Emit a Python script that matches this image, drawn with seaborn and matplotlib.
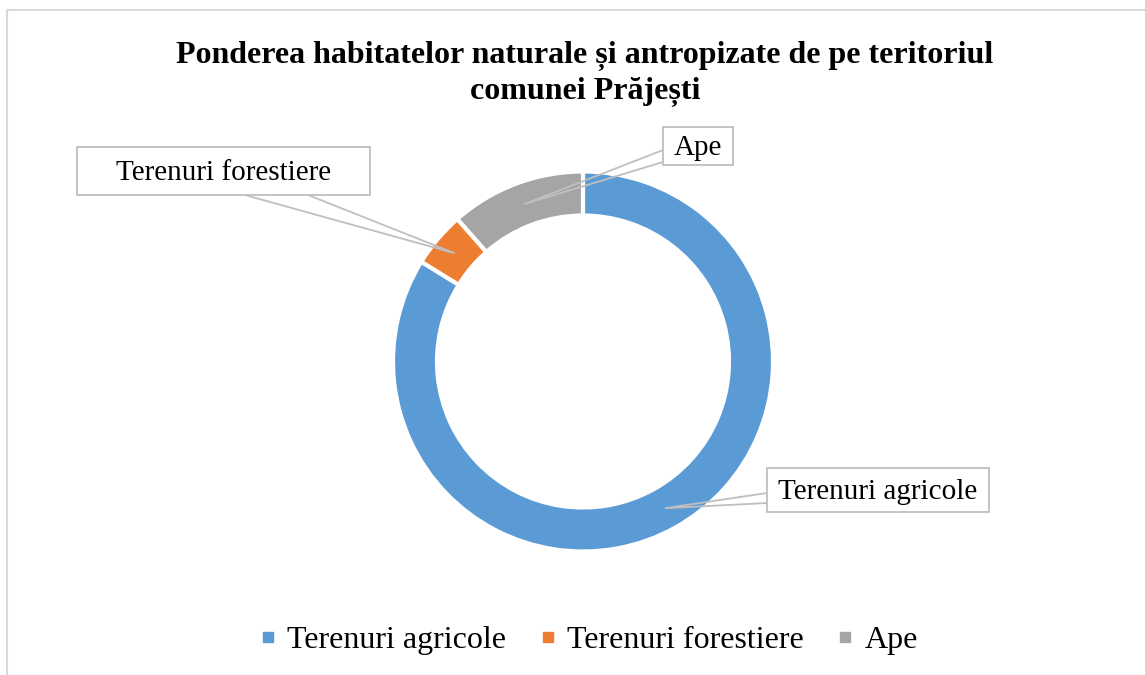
import numpy as np
import matplotlib
matplotlib.use("Agg")
import matplotlib.pyplot as plt
from matplotlib.patches import Rectangle, Polygon
from matplotlib.lines import Line2D
import seaborn as sns

# data
categories = ["Terenuri agricole", "Terenuri forestiere", "Ape"]
shares = [83.8, 4.7, 11.5]
colors = ["#5B9BD5", "#ED7D31", "#A5A5A5"]
title = "Ponderea habitatelor naturale și antropizate de pe teritoriul\ncomunei Prăjești"

sns.set_theme(style="white")
plt.rcParams["font.family"] = ["Liberation Serif", "DejaVu Serif"]
plt.rcParams["text.color"] = "black"

W, H = 1145, 675
fig = plt.figure(figsize=(W / 100, H / 100), dpi=100)
ax = fig.add_axes([0, 0, 1, 1])

# donut, pixel coordinates (y flipped)
cx, cy, R, width = 583, H - 361.5, 190, 44
wedges, _ = ax.pie(shares, colors=sns.color_palette(colors), startangle=90,
                   counterclock=False, radius=R, center=(cx, cy),
                   wedgeprops=dict(width=width, edgecolor="white", linewidth=3))
ax.set_xlim(0, W)
ax.set_ylim(0, H)
ax.set_aspect("auto")
ax.axis("off")

# callout boxes: (x0, y0, x1, y1) in image pixels, wedge base points
boxes = [
    ((767, 468, 989, 512), [(767, 493), (767, 503)]),
    ((77, 147, 370, 195), [(245, 195), (308, 195)]),
    ((663, 127, 733, 165), [(663, 150), (663, 162)]),
]
for w, name, (box, base) in zip(wedges, categories, boxes):
    mid = np.deg2rad((w.theta1 + w.theta2) / 2)
    r = R - width / 2
    tip = (cx + r * np.cos(mid), cy + r * np.sin(mid))
    pts = [(base[0][0], H - base[0][1]), tip, (base[1][0], H - base[1][1])]
    ax.add_patch(Polygon(pts, closed=False, facecolor="none",
                         edgecolor="#bfbfbf", linewidth=1.3, zorder=3))
    x0, y0, x1, y1 = box
    ax.add_patch(Rectangle((x0, H - y1), x1 - x0, y1 - y0, facecolor="white",
                           edgecolor="#bfbfbf", linewidth=1.3, zorder=4))
    ax.text((x0 + x1) / 2, H - (y0 + y1) / 2 - 2, name, ha="center", va="center",
            fontsize=21, color="black", zorder=5)

# chart area border
ax.add_line(Line2D([7, 7, W], [0, H - 10, H - 10], color="#d9d9d9", linewidth=1.5))

fig.text(585 / W, 1 - 74 / H, title, ha="center", va="center", fontsize=23,
         fontweight="bold", linespacing=1.25, color="black")

handles = [Line2D([], [], marker="s", linestyle="none", markersize=7,
                  markerfacecolor=c, markeredgecolor=c) for c in colors]
fig.legend(handles, categories, loc="center", bbox_to_anchor=(588 / W, 1 - 640 / H),
           ncol=3, frameon=False, fontsize=23, handlelength=0.6, handletextpad=0.3,
           columnspacing=1.0, labelcolor="black")

fig.savefig("out.png", dpi=100, facecolor="white")
